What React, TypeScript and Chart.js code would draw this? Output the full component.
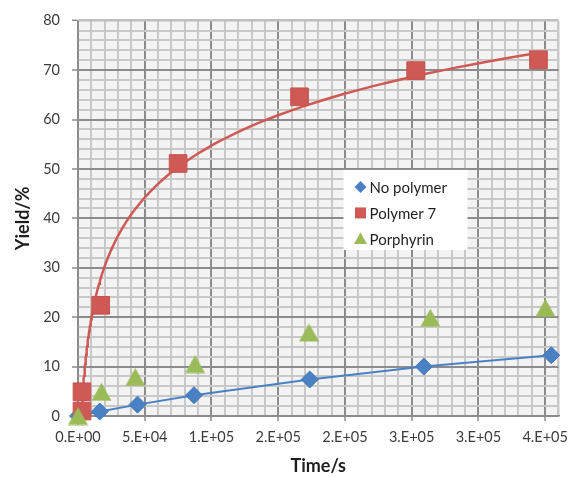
import React, { useEffect, useRef } from 'react';
import { Chart, registerables } from 'chart.js';

Chart.register(...registerables);

// ---- data ----
const seriesNames = ['No polymer', 'Polymer 7', 'Porphyrin'];

const noPolymerTime = [0, 16300, 44600, 86900, 173600, 259100, 354600];
const noPolymerYield = [0, 0.9, 2.3, 4.2, 7.4, 10.0, 12.3];

const polymer7Time = [3000, 3000, 17000, 75000, 166000, 253000, 345000];
const polymer7Yield = [1.0, 4.9, 22.4, 51.1, 64.6, 69.9, 72.1];

const porphyrinTime = [0, 17600, 42900, 87700, 173100, 264000, 350200];
const porphyrinYield = [0, 4.9, 7.9, 10.5, 16.9, 19.9, 21.9];

const xTickLabels = ['0.E+00', '5.E+04', '1.E+05', '2.E+05', '2.E+05', '3.E+05', '3.E+05', '4.E+05'];
const yTickLabels = ['0', '10', '20', '30', '40', '50', '60', '70', '80'];

const xTitle = 'Time/s';
const yTitle = 'Yield/%';

// ---- colours ----
const BLUE = '#4a80c4';
const RED = '#cf5955';
const GREEN = '#9bbb59';
const MAJOR = '#8c8c8c';
const MINOR = '#c8c8c8';
const PLOT_BG = '#f3f3f3';

// logarithmic least-squares trendline (as Excel's "Logarithmic" trendline)
function logFit(xs: number[], ys: number[]) {
  const lx = xs.map((v) => Math.log(v));
  const n = lx.length;
  const mx = lx.reduce((s, v) => s + v, 0) / n;
  const my = ys.reduce((s, v) => s + v, 0) / n;
  let sxy = 0;
  let sxx = 0;
  for (let i = 0; i < n; i++) {
    sxy += (lx[i] - mx) * (ys[i] - my);
    sxx += (lx[i] - mx) * (lx[i] - mx);
  }
  const a = sxy / sxx;
  return { a, b: my - a * mx };
}

function pts(xs: number[], ys: number[]) {
  return xs.map((x, i) => ({ x, y: ys[i] }));
}

function trendPoints(xs: number[], ys: number[]) {
  const { a, b } = logFit(xs, ys);
  const lo = Math.min(...xs);
  const hi = Math.max(...xs);
  const out: { x: number; y: number }[] = [];
  const steps = 120;
  for (let i = 0; i <= steps; i++) {
    const x = lo * Math.pow(hi / lo, i / steps);
    out.push({ x, y: a * Math.log(x) + b });
  }
  return out;
}

// triangle marker whose bounding box is centred on the point (like Excel)
function triangleImage(w: number, h: number, color: string) {
  const c = document.createElement('canvas');
  c.width = w;
  c.height = h;
  const g = c.getContext('2d')!;
  g.fillStyle = color;
  g.beginPath();
  g.moveTo(w / 2, 0.5);
  g.lineTo(w - 0.5, h - 0.5);
  g.lineTo(0.5, h - 0.5);
  g.closePath();
  g.fill();
  return c;
}

const bgPlugin = {
  id: 'plotBg',
  beforeDraw(chart: any) {
    const { ctx, chartArea: a } = chart;
    ctx.save();
    ctx.fillStyle = PLOT_BG;
    ctx.fillRect(a.left, a.top, a.right - a.left, a.bottom - a.top);
    ctx.restore();
  },
};

function drawMarker(ctx: CanvasRenderingContext2D, kind: number, x: number, y: number) {
  ctx.beginPath();
  if (kind === 0) {
    ctx.fillStyle = BLUE;
    ctx.moveTo(x - 6, y);
    ctx.lineTo(x, y - 6);
    ctx.lineTo(x + 6, y);
    ctx.lineTo(x, y + 6);
  } else if (kind === 1) {
    ctx.fillStyle = RED;
    ctx.rect(x - 5.5, y - 5.5, 11, 11);
  } else {
    ctx.fillStyle = GREEN;
    ctx.moveTo(x, y - 6.5);
    ctx.lineTo(x + 6.5, y + 5);
    ctx.lineTo(x - 6.5, y + 5);
  }
  ctx.closePath();
  ctx.fill();
}

const legendPlugin = {
  id: 'insideLegend',
  afterDraw(chart: any) {
    const { ctx, chartArea: a } = chart;
    const bx = a.left + (a.right - a.left) * 0.5526;
    const by = a.top + (a.bottom - a.top) * 0.3775;
    ctx.save();
    ctx.fillStyle = '#ffffff';
    ctx.fillRect(bx, by, 124, 80);
    ctx.font = '15px Lato';
    ctx.textBaseline = 'middle';
    ctx.textAlign = 'left';
    seriesNames.forEach((name, i) => {
      const y = by + 17 + i * 26;
      drawMarker(ctx, i, bx + 17, y);
      ctx.fillStyle = '#1e1e1e';
      ctx.fillText(name, bx + 26, y + 1);
    });
    ctx.restore();
  },
};

export default function App() {
  const ref = useRef<HTMLCanvasElement>(null);

  useEffect(() => {
    document.body.style.margin = '0';
    const canvas = ref.current;
    if (!canvas) return;

    const tri = triangleImage(21, 19, GREEN);

    const chart = new Chart(canvas, {
      type: 'scatter',
      data: {
        datasets: [
          {
            label: seriesNames[0],
            data: pts(noPolymerTime, noPolymerYield),
            showLine: true,
            borderColor: BLUE,
            borderWidth: 2,
            backgroundColor: BLUE,
            pointStyle: 'rectRot',
            pointRadius: 8.5,
            pointBorderColor: '#4278bb',
            pointBorderWidth: 1,
            clip: false,
            order: 3,
          } as any,
          {
            label: seriesNames[1],
            data: pts(polymer7Time, polymer7Yield),
            backgroundColor: RED,
            pointStyle: 'rect',
            pointRadius: 12.5,
            pointBorderColor: '#c85450',
            pointBorderWidth: 1,
            clip: false,
            order: 2,
          } as any,
          {
            label: seriesNames[2],
            data: pts(porphyrinTime, porphyrinYield),
            backgroundColor: GREEN,
            pointStyle: tri,
            pointRadius: 10,
            clip: false,
            order: 1,
          } as any,
          {
            label: 'trend',
            data: trendPoints(polymer7Time, polymer7Yield),
            showLine: true,
            borderColor: RED,
            borderWidth: 2.5,
            pointRadius: 0,
            order: 5,
          } as any,
        ],
      },
      options: {
        responsive: false,
        animation: false,
        events: [],
        layout: { padding: { left: 0, top: 16, right: 9, bottom: 0 } },
        plugins: {
          legend: { display: false },
          tooltip: { enabled: false },
        },
        scales: {
          x: {
            type: 'linear',
            min: 0,
            max: 360000,
            afterFit: (s: any) => {
              s.height = 61;
            },
            ticks: {
              stepSize: 10000,
              autoSkip: false,
              maxRotation: 0,
              padding: 8,
              color: '#3c3c3c',
              font: { family: 'Lato', size: 14.5 },
              callback: (v: any) => {
                const n = Number(v);
                return n % 50000 === 0 ? xTickLabels[n / 50000] ?? '' : '';
              },
            },
            grid: {
              color: (c: any) => (c.tick && c.tick.value % 50000 === 0 ? MAJOR : MINOR),
              lineWidth: (c: any) => (c.tick && c.tick.value === 360000 ? 2.5 : 2),
              tickColor: (c: any) =>
                c.tick && c.tick.value % 50000 === 0 ? MAJOR : 'rgba(0,0,0,0)',
              tickLength: 5,
              tickWidth: 1.5,
            },
            border: { display: true, color: MAJOR, width: 1.5 },
            title: {
              display: true,
              text: xTitle,
              color: '#1e1e1e',
              font: { family: 'Lato', size: 18, weight: 'bold' },
              padding: { top: 0, bottom: 0 },
            },
          },
          y: {
            type: 'linear',
            min: 0,
            max: 80,
            afterFit: (s: any) => {
              s.width = 78;
            },
            ticks: {
              stepSize: 2,
              autoSkip: false,
              padding: 12,
              color: '#3c3c3c',
              font: { family: 'Lato', size: 14.5 },
              callback: (v: any) => {
                const n = Number(v);
                return n % 10 === 0 ? yTickLabels[n / 10] ?? '' : '';
              },
            },
            grid: {
              color: (c: any) => {
                if (!c.tick) return MINOR;
                if (c.tick.value === 80) return '#bdbdbd';
                return c.tick.value % 10 === 0 ? MAJOR : MINOR;
              },
              lineWidth: (c: any) => (c.tick && c.tick.value === 80 ? 2.5 : 2),
              tickColor: (c: any) =>
                c.tick && c.tick.value % 10 === 0 ? MAJOR : 'rgba(0,0,0,0)',
              tickLength: 6,
              tickWidth: 1.5,
            },
            border: { display: true, color: MAJOR, width: 1.5 },
            title: {
              display: true,
              text: yTitle,
              color: '#1e1e1e',
              font: { family: 'Lato', size: 18, weight: 'bold' },
              padding: { top: 12, bottom: 0 },
            },
          },
        },
      } as any,
      plugins: [bgPlugin, legendPlugin],
    });

    return () => chart.destroy();
  }, []);

  return (
    <div style={{ position: 'absolute', left: 0, top: 0, width: 572, height: 477, background: '#fff' }}>
      <canvas ref={ref} width={572} height={477} style={{ display: 'block' }} />
    </div>
  );
}
